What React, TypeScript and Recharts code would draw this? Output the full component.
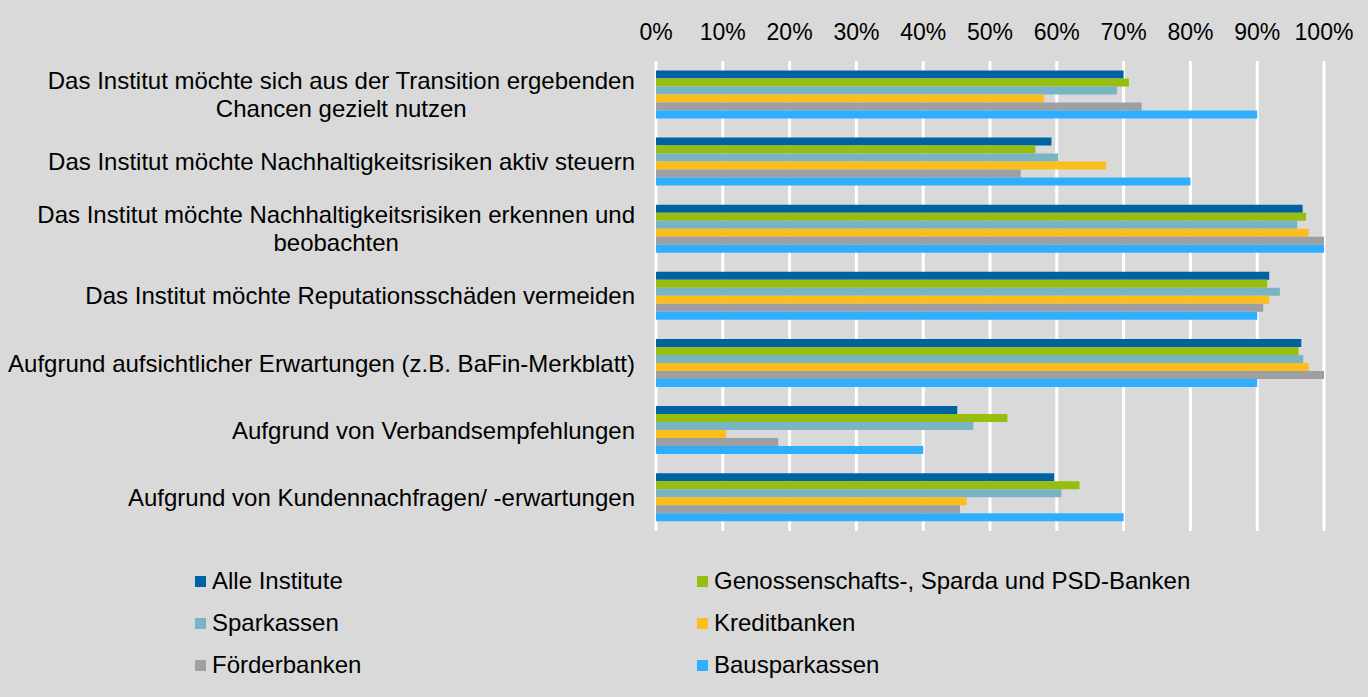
import { BarChart, Bar, XAxis, YAxis, CartesianGrid } from "recharts";

const categories = [
  "Das Institut möchte sich aus der Transition ergebenden\nChancen gezielt nutzen",
  "Das Institut möchte Nachhaltigkeitsrisiken aktiv steuern",
  "Das Institut möchte Nachhaltigkeitsrisiken erkennen und\nbeobachten",
  "Das Institut möchte Reputationsschäden vermeiden",
  "Aufgrund aufsichtlicher Erwartungen (z.B. BaFin-Merkblatt)",
  "Aufgrund von Verbandsempfehlungen",
  "Aufgrund von Kundennachfragen/ -erwartungen",
];

const alleInstitute = [70, 59.2, 96.8, 91.8, 96.6, 45.1, 59.6];
const genossenschaftsbanken = [70.8, 56.8, 97.3, 91.5, 96.2, 52.6, 63.4];
const sparkassen = [69, 60.2, 96, 93.4, 96.9, 47.5, 60.7];
const kreditbanken = [58.1, 67.4, 97.7, 91.8, 97.7, 10.5, 46.5];
const foerderbanken = [72.7, 54.6, 100, 90.9, 100, 18.3, 45.5];
const bausparkassen = [90, 80, 100, 90, 90, 40, 70];

const xTicks = [0, 10, 20, 30, 40, 50, 60, 70, 80, 90, 100];

const series = [
  { key: "alle", name: "Alle Institute", color: "#0063A1", values: alleInstitute },
  { key: "geno", name: "Genossenschafts-, Sparda und PSD-Banken", color: "#95BE0E", values: genossenschaftsbanken },
  { key: "spk", name: "Sparkassen", color: "#78B4C4", values: sparkassen },
  { key: "kredit", name: "Kreditbanken", color: "#FBBE1C", values: kreditbanken },
  { key: "foerder", name: "Förderbanken", color: "#9E9FA2", values: foerderbanken },
  { key: "bauspar", name: "Bausparkassen", color: "#2FAEFF", values: bausparkassen },
];

const data = categories.map((c, i) => {
  const row: Record<string, string | number> = { cat: c };
  series.forEach((s) => (row[s.key] = s.values[i]));
  return row;
});

const FONT = '"Liberation Sans", Arial, sans-serif';
const LABEL_FS = 24;
const TICK_FS = 23;

let ctx: CanvasRenderingContext2D | null = null;
function textWidth(t: string) {
  if (!ctx) ctx = document.createElement("canvas").getContext("2d");
  if (!ctx) return t.length * LABEL_FS * 0.5;
  ctx.font = `${LABEL_FS}px "Liberation Sans"`;
  return ctx.measureText(t).width;
}

// category labels: right aligned block, wrapped lines centred in it
function CatTick({ x, y, payload }: any) {
  const lines = String(payload.value).split("\n");
  const right = x - 19;
  const maxW = Math.max(...lines.map(textWidth));
  const cx = right - maxW / 2;
  const lh = 28;
  return (
    <g>
      {lines.map((l, i) => (
        <text
          key={i}
          x={lines.length > 1 ? cx : right}
          y={y + (i - (lines.length - 1) / 2) * lh}
          dy="0.35em"
          textAnchor={lines.length > 1 ? "middle" : "end"}
          fontSize={LABEL_FS}
          fontFamily={FONT}
          fill="#000"
        >
          {l}
        </text>
      ))}
    </g>
  );
}

function PctTick({ x, y, payload }: any) {
  return (
    <text x={x} y={y - 19} textAnchor="middle" fontSize={TICK_FS} fontFamily={FONT} fill="#000">
      {payload.value}%
    </text>
  );
}

export default function App() {
  return (
    <div style={{ position: "absolute", left: 0, top: 0, width: 1368, height: 697, background: "#D9D9D9" }}>
      <BarChart
        width={1368}
        height={697}
        data={data}
        layout="vertical"
        margin={{ top: 11, right: 44, left: 0, bottom: 166 }}
        barCategoryGap="14%"
        barGap={0}
      >
        <CartesianGrid horizontal={false} stroke="#FFFFFF" strokeWidth={3} />
        <XAxis
          type="number"
          orientation="top"
          domain={[0, 100]}
          ticks={xTicks}
          height={50}
          axisLine={false}
          tickLine={false}
          tickSize={0}
          tick={<PctTick />}
          interval={0}
        />
        <YAxis
          type="category"
          dataKey="cat"
          width={656}
          axisLine={false}
          tickLine={false}
          tickSize={0}
          tick={<CatTick />}
          interval={0}
        />
        {series.map((s) => (
          <Bar key={s.key} dataKey={s.key} name={s.name} fill={s.color} isAnimationActive={false} />
        ))}
      </BarChart>
      <div
        style={{
          position: "absolute",
          left: 195,
          top: 560,
          display: "grid",
          gridTemplateColumns: "502px 520px",
          fontFamily: FONT,
          fontSize: LABEL_FS,
          color: "#000",
        }}
      >
        {series.map((s) => (
          <div key={s.key} style={{ display: "flex", alignItems: "center", height: 42 }}>
            <span style={{ width: 11, height: 11, background: s.color, marginRight: 6, flex: "none" }} />
            <span>{s.name}</span>
          </div>
        ))}
      </div>
    </div>
  );
}
